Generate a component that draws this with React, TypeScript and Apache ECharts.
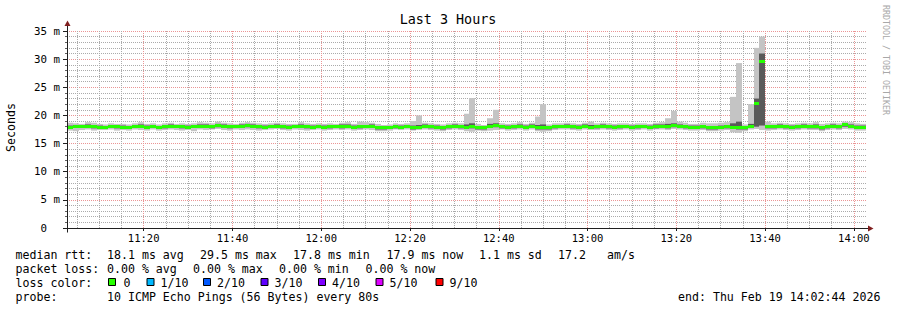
import { useEffect, useRef } from 'react';
import * as echarts from 'echarts';

// time in minutes since 11:00; data starts 11:02:44, one step every 80 s
const START_MIN = 2 + 44 / 60;
const STEP_MIN = 80 / 60;
const END_MIN = START_MIN + 180;

const medianRtt = [
  17.9, 18.0, 18.0, 18.1, 18.0, 17.9, 17.9, 18.0, 18.0, 17.9,
  17.8, 18.0, 18.1, 17.9, 18.0, 17.8, 18.0, 18.1, 18.0, 18.0,
  17.9, 18.0, 18.1, 18.1, 18.0, 18.2, 18.1, 18.0, 18.0, 18.1,
  18.2, 18.1, 18.0, 17.9, 18.0, 18.1, 18.0, 17.9, 18.0, 18.1,
  18.0, 17.9, 18.0, 17.9, 18.0, 18.0, 18.0, 18.1, 17.9, 18.0,
  18.0, 18.1, 17.8, 17.8, 17.8, 18.0, 17.9, 18.0, 17.8, 17.9,
  18.1, 18.0, 17.9, 17.8, 18.0, 18.1, 18.0, 17.9, 18.0, 17.8,
  17.8, 18.1, 18.2, 18.0, 17.9, 18.0, 18.0, 17.9, 18.1, 17.8,
  17.8, 17.8, 18.0, 18.0, 18.1, 18.0, 17.9, 18.0, 17.9, 18.0,
  18.1, 18.0, 17.9, 18.0, 18.0, 17.9, 18.0, 18.0, 17.9, 18.0,
  18.1, 18.0, 18.2, 18.1, 18.0, 17.9, 17.9, 18.0, 17.8, 17.8,
  17.9, 18.0, 17.9, 17.8, 17.8, 18.1, 22.2, 29.5, 18.0, 18.0,
  18.1, 18.0, 17.9, 18.0, 18.1, 18.0, 18.0, 17.8, 18.0, 18.1,
  18.0, 18.3, 18.1, 17.9, 17.9,
];

const minRtt = [
  17.3, 17.2, 17.4, 17.5, 17.3, 17.4, 17.4, 17.5, 17.3, 17.4,
  17.3, 17.5, 17.4, 17.3, 17.5, 17.3, 17.4, 17.5, 17.4, 17.3,
  17.4, 17.2, 17.5, 17.4, 17.5, 17.6, 17.4, 17.3, 17.5, 17.4,
  17.5, 17.4, 17.3, 17.4, 17.5, 17.6, 17.4, 17.3, 17.5, 17.4,
  17.3, 17.4, 17.5, 17.3, 17.4, 17.5, 17.4, 17.5, 17.3, 17.4,
  17.5, 17.4, 17.2, 17.2, 17.3, 17.5, 17.4, 17.5, 17.3, 17.4,
  17.5, 17.4, 17.3, 17.2, 17.4, 17.5, 17.4, 17.2, 17.1, 17.3,
  17.2, 17.3, 17.4, 17.5, 17.3, 17.4, 17.5, 17.3, 17.5, 17.2,
  17.1, 17.2, 17.4, 17.5, 17.5, 17.4, 17.3, 17.5, 17.4, 17.4,
  17.5, 17.4, 17.3, 17.4, 17.5, 17.3, 17.4, 17.5, 17.3, 17.5,
  17.5, 17.4, 17.6, 17.5, 17.4, 17.3, 17.3, 17.4, 17.2, 17.2,
  17.3, 17.4, 17.0, 16.9, 17.2, 17.5, 17.6, 17.4, 17.3, 17.4,
  17.5, 17.4, 17.3, 17.4, 17.5, 17.4, 17.4, 17.2, 17.4, 17.5,
  17.4, 17.6, 17.5, 17.3, 17.3,
];

const maxRtt = [
  18.7, 18.6, 18.5, 18.8, 18.7, 18.5, 18.4, 18.6, 18.5, 18.5,
  18.4, 18.6, 18.8, 18.5, 18.6, 18.4, 18.6, 18.7, 18.5, 18.6,
  18.5, 18.6, 18.8, 18.7, 18.6, 18.9, 18.7, 18.6, 18.5, 18.7,
  18.8, 18.7, 18.6, 18.5, 18.6, 18.7, 18.6, 18.5, 18.5, 18.8,
  18.6, 18.5, 18.6, 18.5, 18.6, 18.5, 18.7, 18.8, 18.5, 18.9,
  18.8, 18.7, 18.5, 18.3, 18.4, 18.6, 18.5, 18.6, 19.0, 20.0,
  18.7, 18.6, 18.5, 18.4, 18.6, 18.7, 18.6, 20.3, 23.1, 18.5,
  18.3, 19.5, 21.0, 18.6, 18.5, 18.6, 18.8, 18.5, 18.7, 19.8,
  22.0, 18.4, 18.6, 18.6, 18.7, 18.6, 18.5, 18.7, 18.9, 18.6,
  18.7, 18.6, 18.5, 18.6, 18.6, 18.5, 18.6, 18.6, 18.5, 18.7,
  18.8, 19.5, 20.8, 18.9, 18.7, 18.5, 18.5, 18.7, 18.6, 18.6,
  18.7, 18.8, 23.3, 29.3, 18.4, 22.0, 32.0, 34.0, 18.9, 18.6,
  18.7, 18.6, 18.5, 18.6, 18.7, 18.6, 18.8, 18.5, 18.6, 18.7,
  18.6, 18.9, 18.8, 18.6, 18.5,
];

const innerLo = [
  17.7, 17.8, 17.8, 17.8, 17.7, 17.7, 17.6, 17.8, 17.7, 17.7,
  17.6, 17.8, 17.8, 17.6, 17.8, 17.6, 17.7, 17.9, 17.8, 17.7,
  17.6, 17.8, 17.8, 17.8, 17.7, 17.9, 17.8, 17.7, 17.8, 17.8,
  17.9, 17.8, 17.7, 17.6, 17.8, 17.8, 17.7, 17.6, 17.8, 17.8,
  17.7, 17.6, 17.8, 17.6, 17.7, 17.8, 17.7, 17.8, 17.6, 17.7,
  17.8, 17.8, 17.5, 17.5, 17.6, 17.7, 17.6, 17.8, 17.5, 17.6,
  17.8, 17.7, 17.6, 17.5, 17.7, 17.8, 17.7, 17.6, 17.7, 17.5,
  17.5, 17.8, 17.9, 17.7, 17.6, 17.7, 17.8, 17.6, 17.8, 17.5,
  17.5, 17.5, 17.7, 17.8, 17.8, 17.7, 17.6, 17.8, 17.6, 17.7,
  17.8, 17.7, 17.6, 17.7, 17.8, 17.6, 17.7, 17.8, 17.6, 17.7,
  17.8, 17.7, 17.9, 17.8, 17.7, 17.6, 17.6, 17.7, 17.5, 17.5,
  17.6, 17.7, 17.6, 17.5, 17.5, 17.8, 18.0, 18.2, 17.7, 17.7,
  17.8, 17.7, 17.6, 17.7, 17.8, 17.7, 17.7, 17.5, 17.7, 17.8,
  17.7, 18.0, 17.8, 17.6, 17.6,
];

const innerHi = [
  18.2, 18.3, 18.2, 18.4, 18.3, 18.2, 18.1, 18.3, 18.2, 18.2,
  18.1, 18.3, 18.4, 18.2, 18.3, 18.1, 18.3, 18.4, 18.2, 18.3,
  18.2, 18.3, 18.4, 18.4, 18.3, 18.5, 18.4, 18.3, 18.2, 18.4,
  18.5, 18.4, 18.3, 18.2, 18.3, 18.4, 18.3, 18.2, 18.2, 18.4,
  18.3, 18.2, 18.3, 18.2, 18.3, 18.2, 18.4, 18.4, 18.2, 18.3,
  18.3, 18.4, 18.1, 18.0, 18.1, 18.3, 18.2, 18.3, 18.2, 18.3,
  18.4, 18.3, 18.2, 18.1, 18.3, 18.4, 18.3, 18.4, 18.6, 18.1,
  18.0, 18.5, 18.6, 18.3, 18.2, 18.3, 18.4, 18.2, 18.4, 18.3,
  18.4, 18.1, 18.3, 18.3, 18.4, 18.3, 18.2, 18.4, 18.3, 18.3,
  18.4, 18.3, 18.2, 18.3, 18.3, 18.2, 18.3, 18.3, 18.2, 18.4,
  18.4, 18.5, 18.6, 18.4, 18.3, 18.2, 18.2, 18.3, 18.1, 18.1,
  18.2, 18.3, 18.6, 18.9, 18.1, 18.5, 23.0, 31.0, 18.3, 18.3,
  18.4, 18.3, 18.2, 18.3, 18.4, 18.3, 18.4, 18.1, 18.3, 18.4,
  18.3, 18.6, 18.4, 18.2, 18.2,
];

const xMajorMinutes = [20, 40, 60, 80, 100, 120, 140, 160, 180];
const xMajorLabels = ['11:20', '11:40', '12:00', '12:20', '12:40', '13:00', '13:20', '13:40', '14:00'];
const xMinorMinutes = [5, 10, 15, 25, 30, 35, 45, 50, 55, 65, 70, 75, 85, 90, 95, 105, 110, 115, 125, 130, 135, 145, 150, 155, 165, 170, 175];
const yTickValues = [0, 5, 10, 15, 20, 25, 30, 35];
const yTickLabels = ['0\u00a0\u00a0', '5 m', '10 m', '15 m', '20 m', '25 m', '30 m', '35 m'];

const titleText = 'Last 3 Hours';
const yAxisTitle = 'Seconds';
const watermark = 'RRDTOOL / TOBI OETIKER';

const rttHeader = 'median rtt:';
const rttStats = ['18.1 ms avg', '29.5 ms max', '17.8 ms min', '17.9 ms now', '1.1 ms sd', '17.2', 'am/s'];
const lossHeader = 'packet loss:';
const lossStats = ['0.00 % avg', '0.00 % max', '0.00 % min', '0.00 % now'];
const colorHeader = 'loss color:';
const lossLabels = ['0', '1/10', '2/10', '3/10', '4/10', '5/10', '9/10'];
const lossColors = ['#26ff00', '#00b8ff', '#0059ff', '#5e00ff', '#7e00ff', '#dd00ff', '#ff0000'];
const probeHeader = 'probe:';
const probeText = '10 ICMP Echo Pings (56 Bytes) every 80s';
const endText = 'end: Thu Feb 19 14:02:44 2026';

const MONO = '"DejaVu Sans Mono", monospace';

export default function App() {
  const ref = useRef<HTMLDivElement>(null);

  useEffect(() => {
    if (!ref.current) return;
    const chart = echarts.init(ref.current, undefined, { renderer: 'svg' });

    const GL = 67, GT = 31, GW = 799, GB = 228;
    const AX = 67.5, AY = 228.5;
    const AXIS_COLOR = '#1f1f1f';
    const ARROW_COLOR = '#801f1f';
    const smokeData = medianRtt.map((m, i) => [
      START_MIN + i * STEP_MIN, minRtt[i], maxRtt[i], innerLo[i], innerHi[i], m, START_MIN + (i + 1) * STEP_MIN,
    ]);

    const txt = (text: string, x: number, y: number, extra: any = {}) => ({
      type: 'text', x, y, z: 100,
      style: {
        text, fill: '#000', fontSize: 11.6, fontFamily: MONO,
        align: 'left', verticalAlign: 'middle', textAlign: 'left', textVerticalAlign: 'middle',
        ...extra,
      },
    });

    const rttX = [107, 200, 293, 386.5, 479, 558, 607];
    const lossX = [107, 193, 279, 365.5];
    const sqX = [108.5, 147, 203.5, 261, 318.5, 376, 436];
    const lblX = [123.5, 160.5, 217, 274.5, 332, 389.5, 449.5];
    const L1 = 254.5, L2 = 268.5, L3 = 282.5, L4 = 296.5;

    const graphics: any[] = [
      txt(titleText, 448, 19, { fontSize: 13.4, align: 'center', textAlign: 'center' }),
      { ...txt(yAxisTitle, 11, 127.5, { align: 'center', textAlign: 'center' }), rotation: Math.PI / 2 },
      { ...txt(watermark, 886, 5, { fontSize: 8.3, fill: '#a8a8a8' }), rotation: -Math.PI / 2 },
      txt(rttHeader, 15.5, L1),
      ...rttStats.map((s, i) => txt(s, rttX[i], L1)),
      txt(lossHeader, 15.5, L2),
      ...lossStats.map((s, i) => txt(s, lossX[i], L2)),
      txt(colorHeader, 15.5, L3),
      ...lossLabels.map((s, i) => txt(s, lblX[i], L3)),
      ...lossColors.map((c, i) => ({
        type: 'rect', z: 100,
        shape: { x: sqX[i], y: 278.5, width: 7, height: 7 },
        style: { fill: c, stroke: '#000', lineWidth: 1 },
      })),
      txt(probeHeader, 15.5, L4),
      txt(probeText, 107, L4),
      txt(endText, 678, L4),
      // axis lines with arrows
      { type: 'line', z: 100, shape: { x1: AX, y1: AY + 4, x2: AX, y2: 25 }, style: { stroke: AXIS_COLOR, lineWidth: 1 } },
      { type: 'polygon', z: 100, shape: { points: [[AX - 3, 26], [AX + 3, 26], [AX, 20.5]] }, style: { fill: ARROW_COLOR } },
      { type: 'line', z: 100, shape: { x1: AX - 4, y1: AY, x2: 868, y2: AY }, style: { stroke: AXIS_COLOR, lineWidth: 1 } },
      { type: 'polygon', z: 100, shape: { points: [[868, AY - 3], [868, AY + 3], [873.5, AY]] }, style: { fill: ARROW_COLOR } },
    ];

    const fmtTime = (v: number) => {
      const idx = xMajorMinutes.indexOf(Math.round(v));
      return idx >= 0 ? xMajorLabels[idx] : '';
    };

    // rrdtool default grid colours, composited on white
    const majorGrid = { color: '#eb9595', width: 1, type: [1, 1] };
    const minorGrid = { color: '#ababab', width: 1, type: [1, 1] };

    chart.setOption({
      animation: false,
      backgroundColor: '#ffffff',
      grid: { left: GL, top: GT, width: GW, height: GB - GT, containLabel: false },
      xAxis: [
        {
          type: 'value', min: START_MIN, max: END_MIN,
          axisLine: { show: false },
          axisTick: { show: true, customValues: xMajorMinutes, length: 3, lineStyle: { color: AXIS_COLOR } },
          axisLabel: {
            show: true, customValues: xMajorMinutes, formatter: fmtTime,
            fontFamily: MONO, fontSize: 10.5, color: '#000', margin: 4,
          },
          splitLine: { show: true, lineStyle: { ...majorGrid } },
          z: 3,
        },
        {
          type: 'value', min: START_MIN, max: END_MIN, position: 'bottom',
          axisLine: { show: false },
          axisTick: { show: false, customValues: xMinorMinutes },
          axisLabel: { show: false, customValues: xMinorMinutes },
          splitLine: { show: true, lineStyle: { ...minorGrid } },
          z: 0,
        },
      ],
      yAxis: {
        type: 'value', min: 0, max: 35, interval: 5,
        axisLine: { show: false },
        axisTick: { show: true, length: 4, lineStyle: { color: AXIS_COLOR } },
        minorTick: { show: true, splitNumber: 5, length: 2, lineStyle: { color: '#606060' } },
        axisLabel: {
          fontFamily: MONO, fontSize: 10.8, color: '#000', margin: 7,
          formatter: (v: number) => yTickLabels[yTickValues.indexOf(v)] ?? '',
        },
        splitLine: { show: true, lineStyle: { ...majorGrid } },
        minorSplitLine: { show: true, lineStyle: { ...minorGrid } },
      },
      graphic: graphics,
      series: [
        {
          type: 'custom',
          xAxisIndex: 0,
          silent: true,
          clip: true,
          z: 5,
          encode: { x: [0, 6], y: [1, 2] },
          data: smokeData,
          renderItem: (_params: any, api: any) => {
            const t0 = api.value(0), t1 = api.value(6);
            const xa = Math.round(api.coord([t0, 0])[0]);
            const xb = Math.round(api.coord([t1, 0])[0]);
            const w = xb - xa;
            const yLo = api.coord([t0, api.value(1)])[1];
            const yHi = api.coord([t0, api.value(2)])[1];
            const yQl = api.coord([t0, api.value(3)])[1];
            const yQh = api.coord([t0, api.value(4)])[1];
            const yM = Math.round(api.coord([t0, api.value(5)])[1] - 1.5);
            return {
              type: 'group',
              children: [
                { type: 'rect', shape: { x: xa, y: yHi, width: w, height: yLo - yHi }, style: { fill: '#c4c4c4' } },
                { type: 'rect', shape: { x: xa, y: yQh, width: w, height: yQl - yQh }, style: { fill: '#5a5a5a' } },
                { type: 'rect', shape: { x: xa, y: yM, width: w, height: 3 }, style: { fill: lossColors[0] } },
              ],
            };
          },
        },
      ],
    });

    return () => chart.dispose();
  }, []);

  return (
    <div
      ref={ref}
      style={{ position: 'fixed', left: 0, top: 0, width: 897, height: 310, background: '#fff' }}
    />
  );
}
